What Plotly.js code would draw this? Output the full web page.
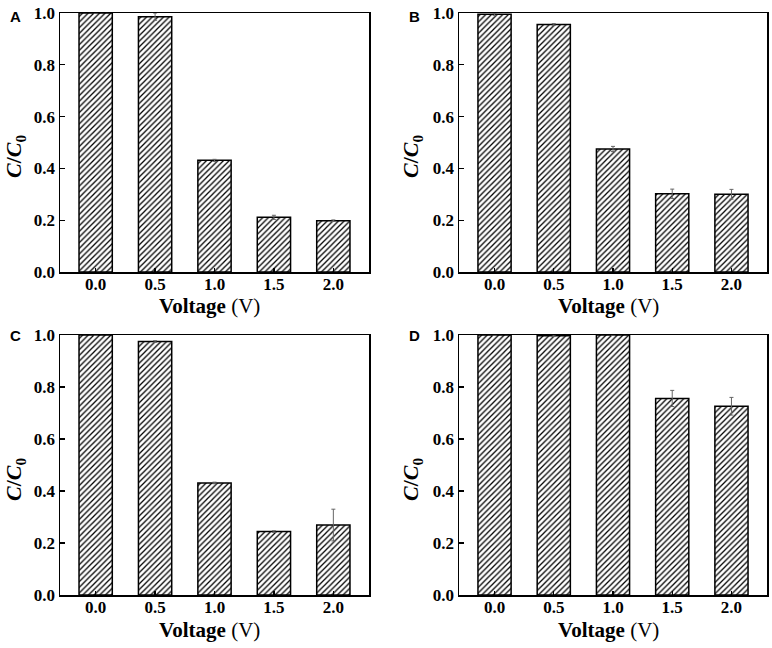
<!DOCTYPE html>
<html>
<head>
<meta charset="utf-8">
<script src="https://cdn.plot.ly/plotly-3.0.1.min.js"></script>
<style>html,body{margin:0;padding:0;background:#fff;}#chart{width:772px;height:648px;}</style>
</head>
<body>
<div id="chart"></div>
<script>
// Data
const voltages = [0.0, 0.5, 1.0, 1.5, 2.0];
const voltageLabels = ['0.0', '0.5', '1.0', '1.5', '2.0'];
const panelLabels = ['A', 'B', 'C', 'D'];

const valuesA = [1.0, 0.986, 0.431, 0.211, 0.198];
const errorsA = [0.0, 0.014, 0.004, 0.008, 0.003];

const valuesB = [0.995, 0.956, 0.475, 0.302, 0.300];
const errorsB = [0.004, 0.003, 0.010, 0.018, 0.019];

const valuesC = [1.0, 0.975, 0.431, 0.244, 0.269];
const errorsC = [0.0, 0.003, 0.003, 0.003, 0.061];

const valuesD = [1.0, 0.997, 1.0, 0.756, 0.726];
const errorsD = [0.0, 0.003, 0.0, 0.031, 0.034];

const yTicks = [0, 0.2, 0.4, 0.6, 0.8, 1.0];
const yTickLabels = ['0.0', '0.2', '0.4', '0.6', '0.8', '1.0'];

const allValues = [valuesA, valuesB, valuesC, valuesD];
const allErrors = [errorsA, errorsB, errorsC, errorsD];

const W = 772, H = 648;
// pixel boxes of the four plot areas [left, right, top, bottom]
const boxes = [
  [60, 369, 13, 272],
  [459, 767, 13, 272],
  [60, 369, 335, 595],
  [459, 767, 335, 595]
];

const traces = [];
const layout = {
  width: W, height: H,
  margin: {l: 0, r: 0, t: 0, b: 0},
  paper_bgcolor: '#ffffff',
  plot_bgcolor: '#ffffff',
  showlegend: false,
  font: {family: 'Liberation Serif', color: '#000'},
  annotations: []
};

const tickFont = {family: 'Liberation Serif', size: 17, color: '#000'};
const xTitleFont = {family: 'Liberation Serif', size: 21, color: '#000'};
const yTitleFont = {family: 'Liberation Serif', size: 22, color: '#000'};
const boldLabels = arr => arr.map(s => '<b>' + s + '</b>');

boxes.forEach((b, i) => {
  const n = i === 0 ? '' : String(i + 1);
  traces.push({
    type: 'bar',
    x: voltages,
    y: allValues[i],
    width: 0.28,
    xaxis: 'x' + n,
    yaxis: 'y' + n,
    marker: {
      color: '#ffffff',
      line: {color: '#000', width: 1.5},
      pattern: {shape: '/', fgcolor: '#000', bgcolor: '#ffffff', size: 4, solidity: 0.32}
    },
    error_y: {type: 'data', array: allErrors[i], visible: true, color: '#666', thickness: 1, width: 2},
    hoverinfo: 'x+y'
  });
  const xa = {
    domain: [b[0] / W, b[1] / W],
    range: [-0.3, 2.3],
    tickvals: voltages,
    ticktext: boldLabels(voltageLabels),
    ticks: 'inside', ticklen: 4, tickwidth: 1.2, tickcolor: '#000',
    ticklabelstandoff: -4,
    showline: true, linecolor: '#000', linewidth: 1.5, mirror: true,
    showgrid: false, zeroline: false,
    tickfont: tickFont,
    anchor: 'y' + n,
    fixedrange: true
  };
  const ya = {
    domain: [1 - b[3] / H, 1 - b[2] / H],
    range: [0, 1.0],
    tickvals: yTicks,
    ticktext: boldLabels(yTickLabels),
    ticks: 'inside', ticklen: 5, tickwidth: 1.2, tickcolor: '#000',
    showline: true, linecolor: '#000', linewidth: 1.5, mirror: true,
    showgrid: false, zeroline: false,
    tickfont: tickFont,
    anchor: 'x' + n,
    fixedrange: true
  };
  layout['xaxis' + n] = xa;
  layout['yaxis' + n] = ya;

  const top = i < 2;
  const left = i % 2 === 0;
  // panel letter
  layout.annotations.push({
    xref: 'paper', yref: 'paper',
    x: (left ? 15 : 414) / W, y: 1 - (top ? 16 : 335) / H,
    text: '<b>' + panelLabels[i] + '</b>', showarrow: false,
    xanchor: 'center', yanchor: 'middle',
    font: {family: 'Liberation Sans', size: 15, color: '#000'}
  });
  // x title
  layout.annotations.push({
    xref: 'paper', yref: 'paper',
    x: (left ? 209 : 608) / W, y: 1 - (top ? 306 : 630) / H,
    text: '<b>Voltage</b> (V)', showarrow: false,
    xanchor: 'center', yanchor: 'middle',
    font: xTitleFont
  });
  // y title
  layout.annotations.push({
    xref: 'paper', yref: 'paper',
    x: (left ? 15 : 412) / W, y: 1 - (top ? 156 : 479) / H,
    text: '<b><i>C</i>/<i>C</i><sub>0</sub></b>', showarrow: false,
    textangle: -90,
    xanchor: 'center', yanchor: 'middle',
    font: yTitleFont
  });
});

Plotly.newPlot('chart', traces, layout, {displayModeBar: false, staticPlot: true});
</script>
</body>
</html>
